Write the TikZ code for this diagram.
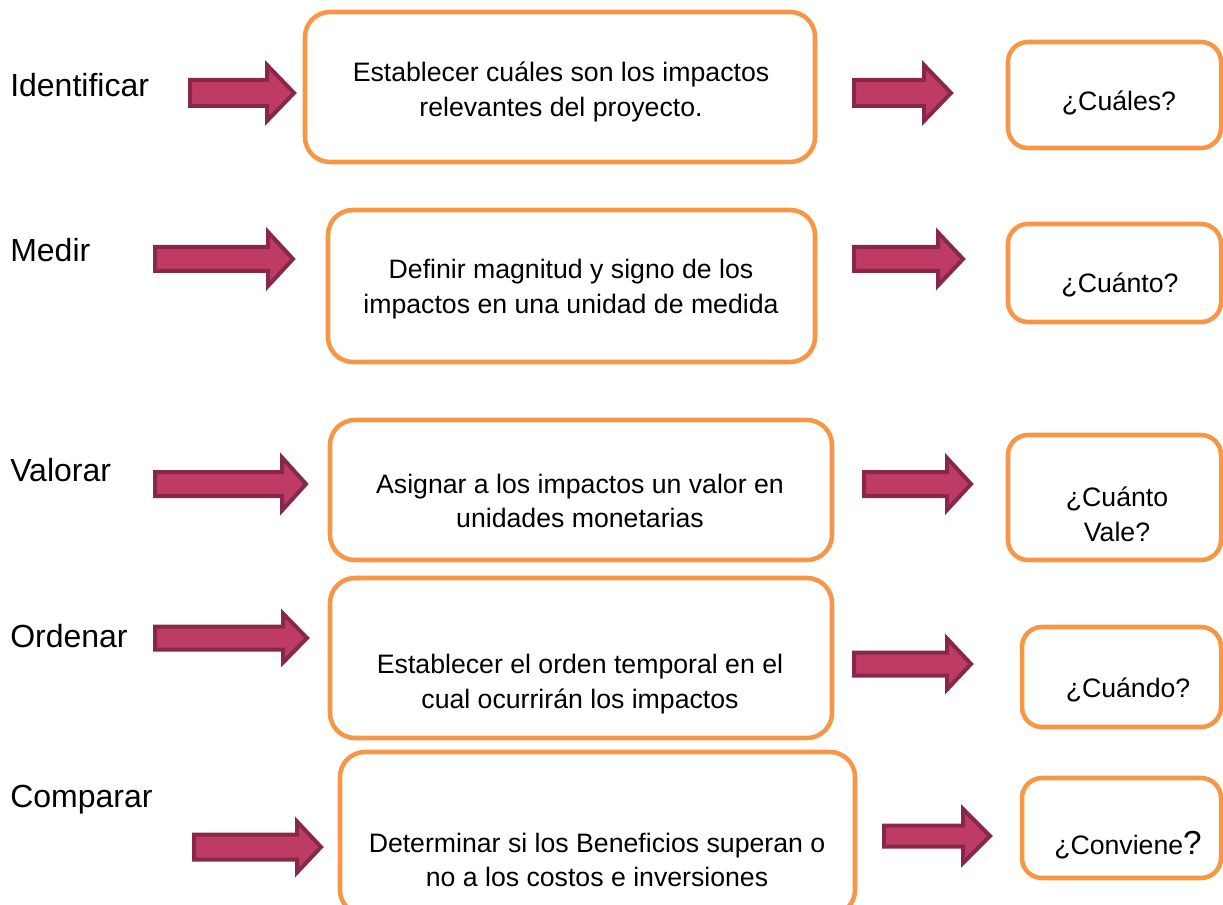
\documentclass[tikz,border=0pt]{standalone}
\usepackage{fontspec}
\setmainfont{Liberation Sans}
\definecolor{naranja}{RGB}{247,150,70}
\definecolor{vino}{RGB}{190,60,100}
\definecolor{vinoborde}{RGB}{135,40,75}
\tikzset{
  caja/.style n args={3}{draw=naranja, line width=3.4pt, rounded corners=#3*0.75pt,
    minimum width=#1*0.75pt, minimum height=#2*0.75pt, inner sep=0pt},
  texto/.style={align=center, inner sep=0pt, font=\fontsize{20}{26}\selectfont},
  etiqueta/.style={anchor=west, inner sep=0pt, font=\fontsize{24}{28}\selectfont},
  flecha/.style={fill=vino, draw=vinoborde, line width=3pt, line join=miter}
}
% block arrow: left, head base, tip, centre y, shaft half, head half
\newcommand\flecha[6]{%
  \draw[flecha] ({#1+2},{#4-#5+2}) -- (#2,{#4-#5+2}) -- (#2,{#4-#6+2})
    -- ({#3-3},#4) -- (#2,{#4+#6-2}) -- (#2,{#4+#5-2}) -- ({#1+2},{#4+#5-2}) -- cycle;}
\begin{document}
\begin{tikzpicture}[x=0.75pt,y=-0.75pt]
  \useasboundingbox (0,0) rectangle (1223,905);
  \clip (0,0) rectangle (1223,905);

  % left labels
  \node[etiqueta] (identificar) at (10,85) {Identificar};
  \node[etiqueta] (medir) at (10,250) {Medir};
  \node[etiqueta] (valorar) at (10,470) {Valorar};
  \node[etiqueta] (ordenar) at (10,636) {Ordenar};
  \node[etiqueta] (comparar) at (10,800) {Comparar};

  % middle boxes
  \node[caja={510}{150}{25}] (b1) at (560,87) {};
  \node[caja={487}{152}{25}] (b2) at (571.5,286) {};
  \node[caja={502}{140}{25}] (b3) at (581,490) {};
  \node[caja={502}{160}{25}] (b4) at (581,658) {};
  \node[caja={515}{163}{25}] (b5) at (597.5,833.5) {};
  \node[texto] (tb1) at (561,92) {Establecer cuáles son los impactos\\relevantes del proyecto.};
  \node[texto] (tb2) at (571,289) {Definir magnitud y signo de los\\impactos en una unidad de medida};
  \node[texto] (tb3) at (580,501) {Asignar a los impactos un valor en\\unidades monetarias};
  \node[texto] (tb4) at (580,684) {Establecer el orden temporal en el\\cual ocurrirán los impactos};
  \node[texto] (tb5) at (597,860) {Determinar si los Beneficios superan o\\no a los costos e inversiones};

  % question boxes
  \node[caja={213}{106}{20}] (q1) at (1114.5,95) {};
  \node[caja={213}{98}{20}] (q2) at (1114.5,273) {};
  \node[caja={213}{125}{20}] (q3) at (1114.5,497.5) {};
  \node[caja={199}{100}{20}] (q4) at (1121.5,677) {};
  \node[caja={199}{100}{20}] (q5) at (1121.5,828) {};
  \node[texto] (tq1) at (1119,103) {¿Cuáles?};
  \node[texto] (tq2) at (1120,285) {¿Cuánto?};
  \node[texto] (tq3) at (1117,514) {¿Cuánto\\Vale?};
  \node[texto] (tq4) at (1128,690) {¿Cuándo?};
  \node[texto] (tq5) at (1128,845) {¿Conviene{\fontsize{25}{26}\selectfont ?}};

  % arrows
  \flecha{188}{267}{297}{93}{15}{30}
  \flecha{153}{268}{296}{259}{14}{29}
  \flecha{153}{282}{309}{484}{14}{28.5}
  \flecha{153}{283}{310}{638}{13.5}{26.5}
  \flecha{192}{297}{324}{847}{14.5}{27.5}
  \flecha{852}{924}{954}{93}{15}{30}
  \flecha{852}{938}{966}{259}{14}{28.5}
  \flecha{862}{947}{974}{484}{14}{28}
  \flecha{852}{947}{974}{664}{13.5}{27.5}
  \flecha{882}{963}{993}{836}{12.5}{29}
\end{tikzpicture}
\end{document}
